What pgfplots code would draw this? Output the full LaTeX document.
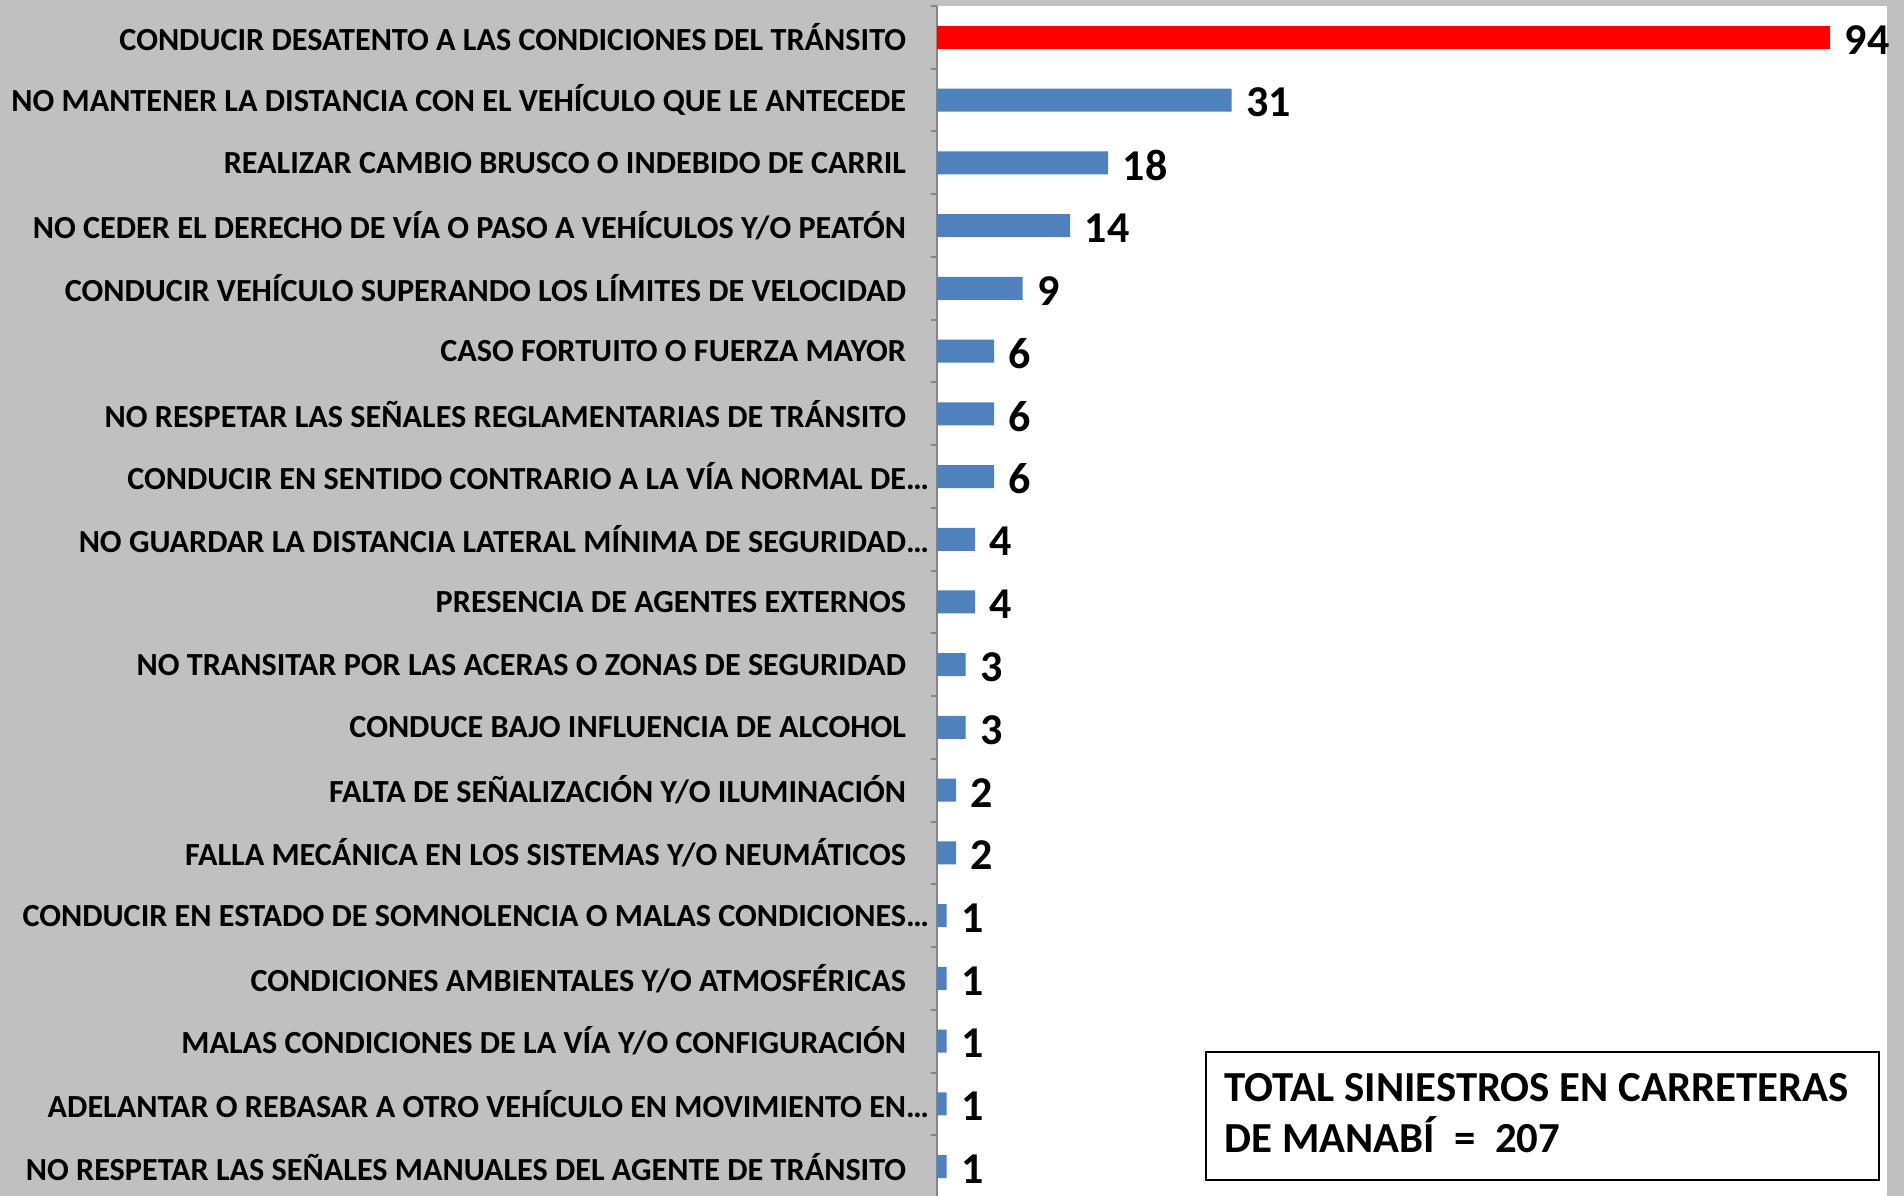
\documentclass[border=0pt]{standalone}
\usepackage{pgfplots}
\pgfplotsset{compat=1.18}
\usepackage{fontspec}
\setmainfont{Carlito}
\definecolor{bg}{HTML}{C0C0C0}
\definecolor{barblue}{HTML}{4F81BD}
\definecolor{axgray}{HTML}{868686}
\begin{document}
\begin{tikzpicture}
\fill[bg] (0,0) rectangle (476pt,299pt);
\useasboundingbox (0,0) rectangle (476pt,299pt);
\begin{axis}[
  at={(234.25pt,297.5pt)}, anchor=north west,
  scale only axis, width=237.5pt, height=298pt,
  xmin=0, xmax=100,
  ymin=-0.5, ymax=18.5, y dir=reverse,
  axis x line=none,
  axis y line*=left,
  axis line style={axgray, line width=0.5pt},
  axis background/.style={fill=white},
  xbar, bar width=5.75pt, bar shift=0pt,
  ytick={0,...,18},
  major tick length=0pt,
  minor ytick={-0.5,0.5,...,18.5},
  minor tick length=1.5pt,
  tick align=outside,
  minor tick style={axgray, line width=0.5pt},
  /pgf/number format/assume math mode=true,
  yticklabel style={font=\bfseries\fontsize{8.05}{9}\selectfont, align=right},
  y tick label style={xshift=-4.2pt},
  yticklabels={
    CONDUCIR DESATENTO A LAS CONDICIONES DEL TRÁNSITO,
    NO MANTENER LA DISTANCIA CON EL VEHÍCULO QUE LE ANTECEDE,
    REALIZAR CAMBIO BRUSCO O INDEBIDO DE CARRIL,
    NO CEDER EL DERECHO DE VÍA O PASO A VEHÍCULOS Y/O PEATÓN,
    CONDUCIR VEHÍCULO SUPERANDO LOS LÍMITES DE VELOCIDAD,
    CASO FORTUITO O FUERZA MAYOR,
    NO RESPETAR LAS SEÑALES REGLAMENTARIAS DE TRÁNSITO,
    {CONDUCIR EN SENTIDO CONTRARIO A LA VÍA NORMAL DE…\kern-5.75pt},
    {NO GUARDAR LA DISTANCIA LATERAL MÍNIMA DE SEGURIDAD…\kern-5.75pt},
    PRESENCIA DE AGENTES EXTERNOS,
    NO TRANSITAR POR LAS ACERAS O ZONAS DE SEGURIDAD,
    CONDUCE BAJO INFLUENCIA DE ALCOHOL,
    FALTA DE SEÑALIZACIÓN Y/O ILUMINACIÓN,
    FALLA MECÁNICA EN LOS SISTEMAS Y/O NEUMÁTICOS,
    {CONDUCIR EN ESTADO DE SOMNOLENCIA O MALAS CONDICIONES…\kern-5.75pt},
    CONDICIONES AMBIENTALES Y/O ATMOSFÉRICAS,
    MALAS CONDICIONES DE LA VÍA Y/O CONFIGURACIÓN,
    {ADELANTAR O REBASAR A OTRO VEHÍCULO EN MOVIMIENTO EN…\kern-5.75pt},
    NO RESPETAR LAS SEÑALES MANUALES DEL AGENTE DE TRÁNSITO},
  nodes near coords,
  nodes near coords style={font=\bfseries\fontsize{11}{12}\selectfont, black, anchor=west, xshift=0.2pt, yshift=-0.6pt},
  clip=false,
]
\addplot[fill=red, draw=none] coordinates {(94,0)};
\addplot[fill=barblue, draw=none] coordinates {
  (31,1) (18,2) (14,3) (9,4) (6,5) (6,6) (6,7) (4,8) (4,9)
  (3,10) (3,11) (2,12) (2,13) (1,14) (1,15) (1,16) (1,17) (1,18)};
\end{axis}
\draw[black, line width=0.5pt, fill=white] (301.5pt,4pt) rectangle (469.75pt,36pt);
\node[anchor=base west, font=\bfseries\fontsize{10.7}{13}\selectfont, inner sep=0pt] at (306pt,23.5pt) {TOTAL SINIESTROS EN CARRETERAS};
\node[anchor=base west, font=\bfseries\fontsize{10.7}{13}\selectfont, inner sep=0pt] at (306pt,10.8pt) {DE MANABÍ \ = \ 207};
\end{tikzpicture}
\end{document}
